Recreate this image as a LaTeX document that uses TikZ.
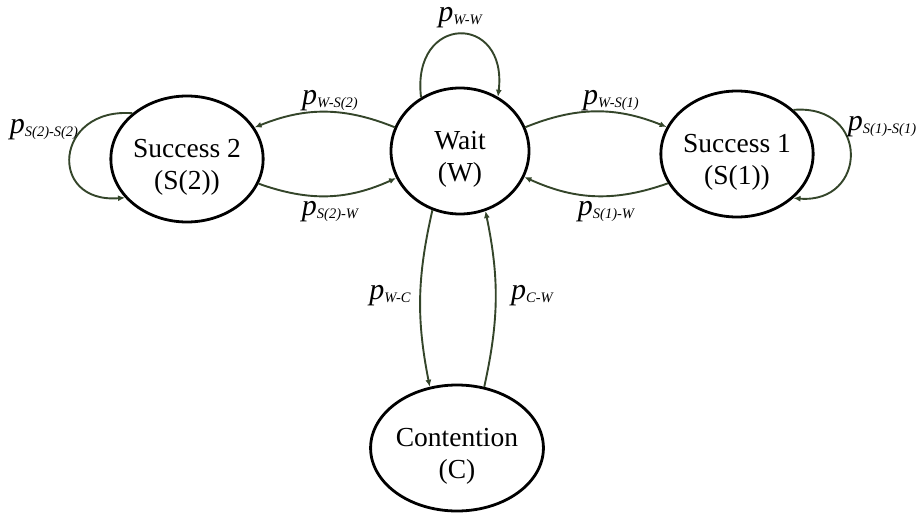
\documentclass[tikz,border=0pt]{standalone}
\usepackage{fontspec}
\setmainfont{Liberation Serif}
\usetikzlibrary{shapes.geometric,arrows.meta}
\definecolor{arrowgreen}{HTML}{34452A}
% transition probability: italic p with a lowered italic index
\newcommand{\prob}[1]{\textit{p}\raisebox{-3pt}{\fontsize{14.5}{14.5}\selectfont\itshape #1}}
% tall invisible strut so the two text lines sit a little below the ellipse centre
\newcommand{\topstrut}{\rule{0pt}{35pt}}
\begin{document}
\begin{tikzpicture}[x=1pt,y=-1pt,
  state/.style={ellipse,draw=black,line width=2.8pt,minimum width=138pt,minimum height=126pt,
    inner sep=0pt,align=center,font=\fontsize{27.5}{32}\selectfont},
  trans/.style={draw=arrowgreen,line width=1.9pt,-{Latex[length=7pt,width=6pt]}},
  lbl/.style={font=\fontsize{30}{30}\selectfont,inner sep=0pt}]
\useasboundingbox (0,0) rectangle (918,513);
% states
\node[state] (W)  at (460,151) {\topstrut Wait\\(W)};
\node[state] (S2) at (187,159) {\topstrut Success 2\\(S(2))};
\node[state] (S1) at (737,154) {\topstrut Success 1\\(S(1))};
\node[state] (C)  at (457,448) {\topstrut Contention\\(C)};
% transitions between states
\draw[trans] (W.160) to[bend right=22] (S2.25);
\draw[trans] (S2.-19) to[bend right=22] (W.203);
\draw[trans] (W.20) to[bend left=22] (S1.159);
\draw[trans] (S1.203) to[bend left=22] (W.-22);
\draw[trans] (W.245) to[bend right=12] (C.114);
\draw[trans] (C.66) to[bend right=12] (W.293);
% self loops
\draw[trans] (W.126) .. controls +(-10,-84) and +(10,-84) .. (W.55);
\draw[trans] (S2.140) .. controls +(-78,-6) and +(-78,6) .. (S2.212);
\draw[trans] (S1.38) .. controls +(77,-6) and +(74,6) .. (S1.322);
% transition probabilities
\node[lbl] (lww)   at (460,18)  {\prob{W-W}};
\node[lbl] (lws2)  at (330,101) {\prob{W-S(2)}};
\node[lbl] (ls2w)  at (330,212) {\prob{S(2)-W}};
\node[lbl] (lws1)  at (611,101) {\prob{W-S(1)}};
\node[lbl] (ls1w)  at (606,212) {\prob{S(1)-W}};
\node[lbl] (lwc)   at (390,296) {\prob{W-C}};
\node[lbl] (lcw)   at (532,296) {\prob{C-W}};
\node[lbl] (ls2s2) at (44,130)  {\prob{S(2)-S(2)}};
\node[lbl] (ls1s1) at (882,127) {\prob{S(1)-S(1)}};
\end{tikzpicture}
\end{document}
